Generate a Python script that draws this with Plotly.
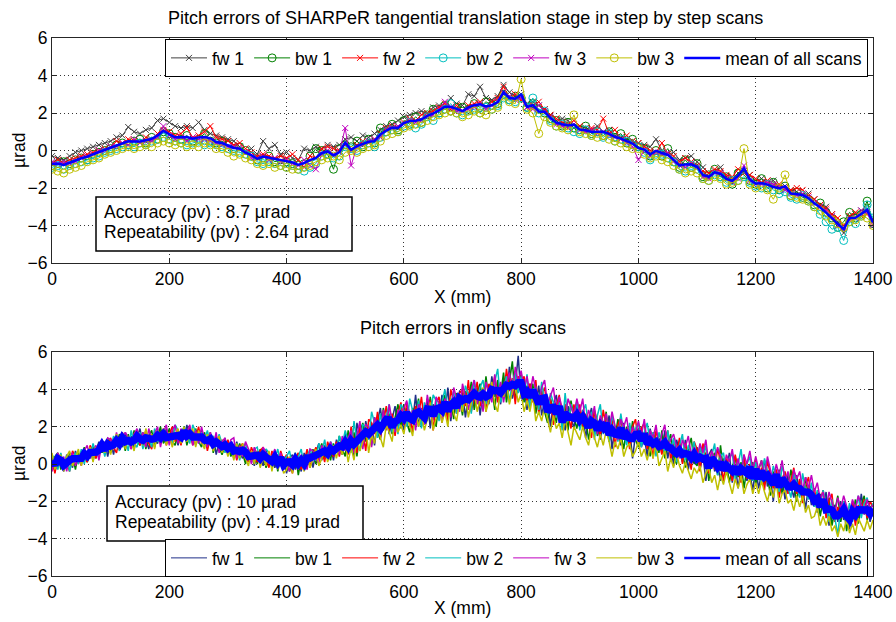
import numpy as np
import plotly.graph_objects as go

# ---------------- data ----------------
x_step = np.arange(0, 1401, 10)   # step-by-step scan positions (mm)
x_fly = np.arange(0, 1401, 5)     # on-the-fly positions (mm), resampled

step_fw1 = [-0.3,-0.4,-0.5,-0.3,-0.1,0.0,0.1,0.2,0.3,0.4,
            0.5,0.7,0.8,1.25,1.0,0.9,1.1,1.2,1.6,1.7,
            1.5,1.3,1.2,1.3,1.2,1.5,1.1,0.9,0.8,0.7,
            0.6,0.5,0.2,-0.1,0.1,-0.2,0.5,0.1,0.3,-0.2,
            -0.1,-0.4,-0.5,0.1,0.0,0.2,0.1,0.3,0.2,0.3,
            0.6,0.7,0.5,0.8,0.7,0.9,1.1,1.3,1.4,1.6,
            1.8,1.9,2.0,2.1,2.0,2.3,2.4,2.3,2.8,2.5,
            2.4,3.0,2.9,3.4,2.8,2.7,2.9,3.5,3.1,2.9,
            3.0,2.5,2.6,2.4,2.2,1.9,1.6,1.7,1.6,1.2,
            1.3,1.2,1.1,1.3,1.0,1.1,0.8,0.7,0.6,0.5,
            0.4,0.3,0.2,0.6,0.0,-0.2,-0.1,-0.5,-0.4,-0.3,
            -0.6,-0.9,-1.2,-1.1,-0.9,-1.4,-1.5,-1.2,-1.1,-1.3,
            -1.6,-1.5,-1.7,-1.6,-2.0,-1.9,-2.1,-2.2,-2.4,-2.3,
            -2.6,-2.9,-3.0,-3.4,-3.8,-4.4,-3.5,-3.4,-3.2,-3.1,-3.7]
step_bw1 = [-0.8,-0.7,-0.6,-0.7,-0.5,-0.4,-0.5,-0.2,-0.1,0.0,
            0.1,0.3,0.4,0.3,0.5,0.6,0.4,0.7,0.6,1.0,
            0.9,0.7,0.6,0.8,0.5,0.6,0.9,0.5,0.4,0.5,
            0.3,0.1,0.2,0.0,-0.3,-0.5,-0.4,-0.3,-0.6,-0.5,
            -0.6,-0.7,-0.8,-0.7,-0.3,0.1,0.0,-0.2,-1.0,0.1,
            0.3,0.2,0.5,0.2,0.6,0.4,1.2,1.0,1.4,1.1,
            1.6,1.4,1.8,1.5,1.9,2.2,2.0,2.4,2.1,2.3,
            2.3,2.2,2.5,2.3,2.6,2.4,2.5,3.0,2.7,2.9,
            2.8,2.3,2.5,2.2,2.0,1.7,1.6,1.3,1.5,1.2,
            1.1,1.3,0.9,1.0,0.8,1.0,0.7,0.9,0.4,0.6,
            0.2,0.1,-0.3,0.0,-0.3,0.1,-0.6,-0.9,-0.5,-0.9,
            -0.7,-1.4,-1.3,-1.0,-1.4,-1.4,-1.8,-1.2,-1.3,-1.6,
            -1.8,-1.5,-2.0,-1.7,-2.1,-1.9,-2.4,-2.2,-2.5,-2.6,
            -2.9,-2.8,-3.3,-3.6,-4.1,-3.8,-3.3,-3.6,-3.4,-2.7,-3.9]
step_fw2 = [-0.7,-0.5,-0.7,-0.5,-0.4,-0.3,-0.2,-0.1,0.0,0.1,
            0.2,0.5,0.4,0.6,0.5,0.4,0.7,0.6,0.9,1.1,
            1.0,0.8,0.9,1.2,0.7,0.8,1.0,1.3,0.7,0.6,
            0.5,0.3,0.4,0.1,-0.1,-0.3,-0.2,-0.3,-0.4,-0.3,
            -0.4,-0.2,-0.5,-0.9,-0.3,-0.4,0.1,0.2,0.1,0.0,
            0.3,0.0,0.3,0.5,0.4,0.6,0.9,1.2,1.3,1.2,
            1.5,1.7,1.6,1.9,2.0,2.1,2.3,2.5,2.2,2.4,
            2.1,2.4,2.5,2.6,2.3,2.6,2.8,3.4,2.8,3.0,
            2.7,2.3,2.4,2.6,2.2,1.9,1.7,1.5,1.4,1.6,
            1.3,1.0,1.2,1.1,1.7,0.9,1.1,0.6,0.8,0.5,
            0.4,0.2,0.0,-0.1,0.4,-0.2,-0.3,-0.6,-0.4,-0.6,
            -0.8,-1.1,-1.2,-1.0,-1.1,-1.3,-1.4,-1.0,-1.2,-1.3,
            -1.5,-1.7,-1.6,-1.9,-1.8,-2.0,-2.1,-2.0,-2.1,-2.4,
            -2.6,-2.9,-3.1,-3.4,-3.6,-4.0,-3.5,-3.3,-3.5,-3.4,-3.8]
step_bw2 = [-0.9,-0.8,-1.0,-0.8,-0.7,-0.6,-0.5,-0.4,-0.3,-0.1,
            0.0,0.1,0.2,0.3,0.2,0.4,0.3,0.5,0.6,0.7,
            0.6,0.5,0.4,0.3,0.4,0.5,0.3,0.4,0.3,0.2,
            0.1,0.0,-0.1,-0.2,-0.3,-0.6,-0.7,-0.6,-0.7,-0.8,
            -0.9,-0.8,-1.0,-1.1,-0.9,-0.7,-0.3,-0.2,-0.4,-0.3,
            0.2,0.1,0.0,0.3,0.4,0.2,0.7,1.0,1.1,1.0,
            1.3,1.5,1.2,1.4,1.8,1.6,2.0,2.2,2.5,2.0,
            1.9,2.1,2.2,2.0,2.3,2.2,2.4,2.8,2.7,2.6,
            2.8,2.3,2.8,2.0,2.1,1.6,1.3,1.4,1.2,1.0,
            0.9,1.1,0.8,1.0,0.7,0.9,0.5,0.6,0.5,0.3,
            0.2,-0.1,-0.5,-0.2,-0.2,-0.4,-0.6,-1.0,-1.1,-0.8,
            -1.0,-1.5,-1.6,-1.3,-1.4,-1.7,-1.6,-1.6,-1.4,-1.7,
            -1.9,-2.0,-1.8,-2.1,-2.3,-2.2,-2.5,-2.6,-2.4,-2.7,
            -3.0,-3.4,-3.8,-4.2,-4.1,-4.8,-3.8,-3.9,-3.5,-2.9,-3.6]
step_fw3 = [-0.6,-0.7,-0.6,-0.7,-0.6,-0.4,-0.3,-0.2,0.0,0.0,
            0.2,0.2,0.4,0.3,0.6,0.4,0.5,0.5,0.7,1.3,
            0.8,0.6,0.7,0.5,0.7,0.6,0.6,0.5,0.4,0.3,
            0.2,0.2,0.1,-0.1,-0.4,-0.4,-0.3,-0.5,-0.4,-0.6,
            -0.5,-0.7,-0.8,-0.5,-0.8,-1.0,-0.2,0.0,-0.2,-0.1,
            1.2,-0.8,0.2,0.3,0.5,0.6,0.7,1.1,1.2,1.3,
            1.4,1.6,1.5,1.6,1.8,1.9,2.2,2.6,2.3,2.1,
            2.1,2.2,2.3,2.5,2.2,2.4,2.6,3.1,2.9,2.7,
            2.8,2.3,2.2,2.4,2.1,1.8,1.4,1.3,1.2,1.4,
            1.1,1.0,1.1,0.9,1.0,0.8,0.7,0.6,0.4,0.2,
            -0.5,0.0,-0.3,-0.1,-0.2,-0.1,-0.6,-0.8,-0.9,-0.7,
            -0.9,-1.4,-1.5,-1.2,-1.2,-1.5,-1.7,-1.5,-0.8,-1.6,
            -1.8,-1.8,-1.7,-1.8,-1.9,-2.1,-2.3,-2.4,-2.3,-2.5,
            -2.8,-3.0,-3.2,-3.5,-4.0,-4.1,-3.7,-3.6,-3.2,-3.3,-4.0]
step_bw3 = [-1.0,-1.1,-1.2,-1.0,-0.9,-0.8,-0.6,-0.5,-0.4,-0.2,
            -0.1,0.0,0.1,0.2,0.1,0.2,0.3,0.2,0.4,0.5,
            0.4,0.3,0.4,0.2,0.3,0.2,0.4,0.3,0.1,0.1,
            -0.1,-0.3,-0.2,-0.4,-0.5,-0.7,-0.8,-0.7,-0.9,-0.8,
            -0.9,-1.0,-1.0,-0.9,-0.8,-0.6,-0.5,-0.4,-0.3,-0.5,
            -0.1,0.0,-0.1,0.1,0.2,0.3,0.5,0.8,0.9,1.0,
            1.2,1.3,1.4,1.5,1.6,1.8,1.9,2.0,2.1,2.0,
            1.8,1.9,2.1,2.0,1.9,2.2,2.3,2.9,2.6,2.5,
            3.8,2.2,2.0,0.9,1.8,1.5,1.3,1.2,1.1,1.9,
            1.0,0.9,0.8,0.7,0.8,0.6,0.5,0.4,0.2,0.1,
            0.1,-0.2,-0.4,-0.3,-0.5,-0.6,-0.8,-1.0,-1.2,-1.1,
            -1.2,-1.5,-1.6,-1.4,-1.5,-1.8,-1.7,-1.6,0.1,-1.8,
            -2.0,-1.9,-2.1,-2.6,-2.0,-1.3,-2.4,-2.5,-2.6,-2.7,
            -3.0,-3.2,-3.5,-3.7,-3.9,-4.1,-3.8,-3.7,-3.5,-3.6,-4.0]

fly_fw1 = [0.4,-0.4,0.3,0.0,-0.4,0.5,0.3,-0.2,0.7,0.1,0.3,0.8,0.2,0.7,0.2,0.7,1.2,0.6,1.2,0.4,
           1.2,0.5,1.5,1.2,0.9,1.7,1.1,1.5,0.8,1.4,1.9,1.1,1.4,0.8,1.6,1.3,1.1,1.8,1.2,1.9,
           1.1,1.8,1.6,1.0,1.8,1.4,2.1,1.3,1.6,1.0,1.5,1.8,1.0,1.5,1.0,1.5,0.5,1.2,0.9,1.4,
           0.6,1.1,0.3,1.2,0.6,0.3,0.9,0.4,0.6,-0.1,0.6,0.4,-0.1,0.8,0.0,0.4,-0.2,0.5,0.0,0.4,
           -0.5,0.3,0.5,-0.3,0.2,-0.4,0.6,-0.1,0.6,-0.2,0.6,1.1,0.2,1.0,0.5,1.0,0.2,1.3,0.9,0.5,
           1.6,0.6,1.3,0.4,2.2,1.5,1.0,2.3,1.5,2.2,1.0,2.3,3.0,1.8,2.6,1.6,2.4,3.1,2.0,2.5,
           1.8,3.0,2.7,2.2,3.7,2.0,3.0,2.5,3.5,1.9,3.2,2.9,2.4,3.7,2.7,4.1,2.3,3.5,3.1,3.9,
           3.8,2.5,3.7,4.2,3.2,4.1,2.6,3.9,3.7,3.2,4.7,3.6,4.3,3.2,4.6,3.6,5.2,3.5,4.2,5.8,
           3.5,4.2,2.9,4.3,3.7,3.1,4.2,2.6,3.4,3.6,2.0,3.2,3.7,2.3,2.7,1.8,3.1,2.5,1.9,3.1,
           2.0,2.9,1.4,2.4,3.0,1.6,2.1,1.3,2.3,1.6,2.6,0.8,2.0,1.6,1.0,2.2,1.2,1.9,0.3,1.6,
           1.9,0.9,1.5,0.4,1.9,1.1,0.5,1.4,0.7,1.8,0.3,1.1,-0.1,1.3,0.7,0.1,1.3,-0.3,0.6,0.0,
           0.9,-0.3,0.5,-0.9,0.5,0.8,-0.4,0.0,-0.9,0.3,-0.5,0.6,-1.0,0.0,-1.3,-0.2,0.2,-0.9,-0.5,-1.4,
           -0.2,-1.3,-0.5,0.2,-1.2,-0.7,-2.0,-0.3,-1.2,-0.7,-1.9,-0.6,-1.2,-1.8,-0.6,-1.7,-1.3,-2.4,-1.2,-2.2,
           -1.6,-2.6,-1.6,-2.4,-1.5,-3.3,-2.4,-2.2,-3.1,-2.0,-3.0,-2.5,-3.5,-2.0,-2.6,-3.0,-1.6,-2.7,-2.2,-3.1,
           -2.5]
fly_bw1 = [-0.2,0.4,0.6,-0.3,0.2,-0.2,0.6,0.4,-0.3,0.6,0.2,0.9,0.1,0.5,0.9,0.3,1.1,0.6,1.0,1.4,
           0.6,1.3,1.0,1.6,1.4,0.7,1.6,1.0,1.8,1.2,1.0,1.7,0.8,1.5,1.8,0.9,1.5,2.0,1.1,1.4,
           1.9,1.2,1.0,1.8,1.5,2.0,1.0,1.6,1.1,1.9,1.2,0.9,1.7,1.0,1.7,0.6,1.3,0.9,0.5,1.0,
           1.1,0.4,0.8,0.5,1.1,0.6,0.0,0.8,0.3,0.8,0.0,0.8,0.5,-0.2,0.3,-0.1,0.6,-0.4,0.4,-0.3,
           0.4,-0.4,0.0,0.6,-0.6,0.3,-0.2,0.6,0.1,0.8,0.0,0.6,1.1,0.3,0.8,0.2,1.1,0.6,1.5,0.8,
           0.4,1.8,0.9,1.7,0.4,1.7,2.2,1.2,1.8,1.0,2.5,1.7,1.3,3.0,2.1,2.7,1.6,2.5,3.2,1.9,
           3.2,2.2,1.7,3.0,2.6,3.5,2.0,3.0,2.3,3.6,2.6,2.0,3.4,3.1,3.7,2.6,3.5,2.4,3.8,3.5,
           2.6,3.9,3.4,4.4,2.9,3.8,4.3,3.2,4.7,3.4,4.1,2.9,4.5,3.7,4.9,3.3,4.5,5.5,3.5,4.1,
           4.9,3.3,4.2,3.4,4.3,2.7,3.6,3.9,2.8,2.2,3.5,2.9,2.2,3.5,2.3,3.0,1.8,3.4,2.5,1.9,
           2.9,1.9,2.5,1.3,2.2,2.8,1.5,2.4,1.7,2.8,1.2,1.9,1.4,2.4,1.6,0.8,2.0,1.0,2.3,1.3,
           0.9,2.0,1.1,1.7,0.4,1.7,1.2,0.6,1.8,0.3,1.1,1.6,0.4,0.0,1.1,0.6,-0.2,0.8,1.4,0.1,
           -0.1,1.0,0.1,0.6,-0.9,0.3,0.6,-0.6,1.0,-0.4,0.1,-1.0,-0.2,0.4,-0.7,0.1,-1.3,-0.2,-0.7,0.1,
           -1.1,-0.3,0.2,-1.1,-0.6,-1.7,-0.4,-1.0,-0.3,-1.6,-0.7,-1.4,-0.3,-1.2,-2.0,-0.9,-1.9,-0.7,-1.8,-1.4,
           -2.3,-1.5,-2.8,-1.9,-2.5,-1.8,-3.3,-2.5,-1.7,-3.1,-2.3,-3.6,-2.5,-2.9,-1.9,-3.2,-2.2,-1.7,-3.0,-2.3,
           -2.2]
fly_fw2 = [0.2,-0.5,0.4,0.5,-0.1,0.1,-0.4,0.7,0.4,0.0,0.7,0.3,0.1,1.0,0.7,0.3,0.9,1.3,0.5,1.0,
           1.4,0.9,0.6,1.4,1.7,1.0,1.3,0.8,1.6,1.8,1.0,1.3,1.8,1.1,0.8,1.7,1.6,1.1,1.9,1.0,
           1.6,2.0,1.2,1.6,1.0,1.9,1.4,2.0,1.0,1.4,2.0,1.1,1.6,0.7,1.4,1.1,1.5,0.7,1.3,0.7,
           1.3,0.7,1.0,0.2,0.8,1.1,0.3,0.1,0.9,0.5,0.1,0.7,0.9,0.3,-0.2,0.7,0.3,-0.2,0.7,0.2,
           0.5,0.1,-0.5,0.3,0.6,-0.3,0.1,0.8,-0.2,0.5,0.9,0.2,0.7,0.1,1.2,0.7,0.4,1.2,0.4,1.2,
           1.3,0.5,2.0,1.2,0.6,2.0,1.7,0.7,2.4,2.2,1.6,2.8,1.4,2.2,3.1,1.8,2.7,1.5,2.7,3.3,
           2.1,3.3,2.7,1.7,3.1,2.6,3.6,2.2,3.0,3.4,1.8,3.3,3.6,2.7,3.2,2.3,4.0,3.3,2.7,3.8,
           4.0,3.1,4.5,2.8,3.7,4.4,3.1,4.0,2.8,4.3,3.9,4.7,3.3,4.2,3.6,5.1,3.9,4.6,3.2,4.7,
           4.2,4.7,3.3,4.3,3.3,4.5,2.7,3.7,4.1,2.9,3.5,2.1,3.1,3.7,2.2,3.2,2.7,1.9,3.2,2.3,
           3.2,2.0,2.7,2.2,1.4,2.9,2.3,1.5,2.9,2.0,1.4,2.4,0.9,2.1,2.5,1.3,1.9,0.8,2.0,2.4,
           1.1,1.9,2.2,0.8,1.5,0.3,1.8,1.2,0.5,1.4,1.8,0.2,1.1,0.5,1.4,0.0,1.1,0.5,-0.3,1.2,
           0.8,-0.4,1.1,0.3,-0.5,0.7,-0.3,0.8,0.2,-0.9,0.3,-0.2,-0.9,0.5,-0.2,-1.0,0.5,-0.8,0.0,-0.6,
           0.2,-0.8,-0.2,-1.4,0.2,-0.5,-1.3,-0.3,-1.8,-0.8,-0.4,-1.6,-0.8,-0.2,-1.6,-0.8,-2.1,-1.2,-0.7,-1.9,
           -1.3,-2.3,-1.9,-1.4,-2.9,-2.0,-1.6,-3.1,-2.3,-2.9,-2.0,-2.5,-3.2,-2.1,-3.3,-2.2,-2.5,-1.9,-2.9,-2.0,
           -2.3]
fly_bw2 = [0.5,0.2,-0.3,0.6,-0.1,0.4,-0.4,0.3,0.6,0.0,0.8,0.0,0.7,0.3,1.1,0.6,0.4,1.2,0.4,1.1,
           0.8,1.5,1.1,0.7,1.6,1.3,0.7,1.8,1.1,0.9,1.7,0.8,1.6,1.4,0.9,1.9,1.2,1.4,1.8,1.1,
           1.5,1.1,2.1,1.8,1.3,2.0,1.6,1.1,2.1,1.7,1.1,1.7,1.3,1.8,1.0,1.5,0.9,1.6,1.1,0.6,
           1.0,1.2,0.5,1.1,0.2,0.9,1.1,0.4,0.1,0.8,0.9,0.1,0.4,0.8,0.6,-0.2,0.3,0.8,0.0,0.2,
           0.4,0.7,-0.1,0.2,0.4,0.8,-0.2,0.4,0.8,0.3,0.2,1.1,0.6,1.3,0.3,1.2,0.9,0.7,1.5,1.0,
           1.8,1.2,0.6,2.3,1.2,0.7,2.1,2.0,1.3,2.8,2.2,1.4,2.7,1.8,2.6,3.2,1.7,2.4,1.6,3.2,
           2.9,2.0,3.5,2.8,2.2,3.4,1.9,3.3,2.8,2.6,3.7,3.4,2.3,3.3,4.0,2.8,3.2,3.9,2.7,3.7,
           2.9,4.2,3.7,2.7,4.5,3.5,4.1,4.5,3.2,4.0,3.5,4.4,5.1,3.3,4.1,4.7,3.3,4.4,4.9,3.8,
           4.7,3.6,4.8,3.0,4.0,4.1,2.9,4.4,3.3,2.6,3.8,3.3,2.5,3.3,1.8,3.8,2.3,3.2,2.5,3.4,
           1.8,2.8,3.2,2.1,2.8,1.3,2.6,3.2,1.6,2.2,1.2,2.6,2.0,1.2,2.7,1.6,1.0,2.2,1.2,1.9,
           2.2,0.9,1.7,2.2,1.1,1.7,0.4,1.7,1.1,0.6,1.8,0.7,1.4,0.1,1.0,1.6,0.2,1.0,0.5,1.2,
           0.2,0.9,0.3,1.0,-0.2,0.4,1.1,-0.6,0.4,0.6,-0.5,0.3,0.6,-0.8,0.0,0.8,-0.6,0.0,0.4,-0.9,
           0.1,-0.5,-1.1,0.3,-0.4,-1.1,-0.1,-0.7,-1.5,-0.1,-0.7,-1.2,-1.8,-0.5,-1.0,-1.8,-0.5,-1.4,-1.9,-1.0,
           -2.3,-1.4,-2.3,-1.4,-2.1,-3.1,-1.9,-2.9,-3.8,-2.3,-2.0,-2.9,-2.1,-3.1,-2.3,-1.7,-2.9,-2.1,-1.8,-2.6,
           -2.1]
fly_fw3 = [-0.4,0.3,0.6,-0.1,0.4,-0.4,0.4,0.6,-0.1,0.4,-0.1,0.7,1.0,0.3,0.6,1.0,0.2,1.1,0.8,1.4,
           1.3,0.8,1.7,0.8,1.2,1.7,1.4,0.8,1.6,1.9,1.1,1.7,0.9,1.9,1.3,1.6,2.0,0.9,1.7,2.1,
           1.0,1.8,2.1,1.1,1.9,1.3,1.7,2.1,1.0,1.8,1.1,2.0,1.3,0.9,1.7,1.0,1.7,0.6,1.2,1.4,
           0.6,1.3,1.4,0.3,1.0,0.4,1.2,0.8,0.0,0.9,0.5,0.0,0.9,0.6,0.0,0.4,0.8,0.1,0.6,-0.3,
           0.1,-0.4,0.4,0.2,-0.3,0.5,0.1,-0.3,0.8,0.7,0.3,0.0,1.0,0.6,0.4,1.2,0.6,1.1,0.5,1.5,
           0.7,1.4,1.8,0.6,1.5,2.3,0.8,2.1,2.0,0.9,2.5,2.0,1.5,2.9,1.8,3.2,2.3,1.7,2.9,2.6,
           3.0,3.4,2.0,2.9,1.8,3.2,2.9,2.1,3.7,2.8,2.4,3.6,3.2,2.2,3.5,3.2,2.5,4.1,3.5,2.8,
           4.3,3.6,2.9,4.0,4.5,3.2,3.9,2.8,4.4,3.8,3.3,4.8,3.6,4.4,3.3,4.3,4.9,3.7,5.2,4.4,
           5.0,4.0,4.7,3.7,4.7,4.0,3.2,4.1,4.5,3.2,3.6,4.1,2.8,3.6,3.0,2.3,3.5,3.1,2.6,3.5,
           2.8,3.5,2.0,2.9,2.4,3.1,1.6,2.6,2.1,2.7,1.8,2.8,2.1,1.3,2.4,2.0,2.5,1.3,2.0,1.6,
           2.3,1.5,2.4,1.1,1.8,1.4,2.1,0.9,1.6,2.1,0.8,1.3,1.6,0.9,0.3,1.3,0.9,1.5,0.5,0.9,
           0.3,1.1,0.6,1.3,0.0,0.7,0.3,0.9,0.4,-0.4,0.5,0.1,0.8,-0.3,0.3,-0.6,0.5,0.0,0.7,-0.3,
           0.4,-0.3,0.2,-0.7,0.4,-0.3,-1.0,0.0,-0.6,0.2,-0.9,-0.4,-1.4,-0.3,-0.8,-0.4,-1.4,-0.7,-1.3,-0.6,
           -1.5,-1.0,-1.9,-1.5,-2.4,-1.5,-2.0,-2.6,-1.8,-2.4,-1.7,-2.3,-2.8,-1.9,-2.4,-1.7,-2.2,-2.7,-1.9,-2.4,
           -2.2]
fly_bw3 = [0.6,-0.3,0.1,0.5,-0.4,0.4,0.7,-0.1,0.3,0.8,-0.1,0.6,0.4,0.9,0.1,0.9,0.7,1.3,0.6,1.1,
           0.5,1.2,1.6,0.8,1.6,0.8,1.5,1.2,0.7,1.7,1.4,1.0,1.9,1.2,1.6,0.8,1.8,1.2,1.9,1.0,
           1.7,0.9,1.5,1.9,1.1,2.0,1.2,1.6,1.9,0.9,1.8,1.2,0.8,1.6,1.2,0.7,1.2,1.5,0.6,1.0,
           0.4,1.0,0.2,1.1,0.3,1.1,0.3,-0.1,0.7,0.0,0.7,-0.2,0.4,-0.1,0.7,-0.4,0.4,-0.3,0.3,-0.5,
           -0.3,0.4,-0.5,0.5,-0.2,0.3,-0.4,0.5,-0.2,0.3,0.8,-0.1,0.3,0.9,0.1,0.6,1.0,0.3,1.0,0.5,
           1.2,0.1,0.9,0.2,1.4,0.7,1.2,2.0,0.6,1.6,1.1,2.3,1.4,0.9,2.1,1.7,1.2,2.5,1.7,2.1,
           1.6,2.6,2.0,1.5,2.9,2.0,2.7,1.8,2.4,3.3,1.8,2.5,3.1,2.2,2.8,2.0,3.5,2.7,2.3,3.4,
           2.8,3.7,2.5,3.3,3.9,2.8,3.5,4.1,2.8,3.4,4.4,3.2,2.8,4.1,3.6,4.3,3.2,3.9,4.2,3.3,
           3.8,2.8,3.4,2.8,3.7,2.3,2.8,2.3,3.1,2.3,1.7,2.6,1.9,2.2,1.4,2.4,1.6,1.0,2.0,1.6,
           1.3,2.0,1.4,1.0,2.0,1.4,0.9,1.6,1.0,1.8,1.2,0.4,1.2,0.8,1.4,0.4,0.9,1.1,0.4,0.7,
           1.2,0.4,0.8,0.2,0.9,0.3,1.1,-0.1,0.3,0.7,-0.4,0.3,-0.2,0.6,-0.1,-0.5,0.1,-0.4,-0.8,-0.2,
           -0.5,-0.1,-1.0,-0.5,-0.2,-1.0,-0.6,-1.4,-0.6,-1.1,-0.4,-1.0,-1.6,-0.8,-1.3,-0.6,-1.6,-1.1,-0.8,-1.6,
           -1.0,-1.6,-0.9,-1.5,-2.0,-1.3,-1.8,-1.0,-2.1,-1.6,-1.4,-2.1,-1.9,-2.5,-1.7,-2.3,-1.7,-2.6,-2.2,-2.9,
           -2.8,-2.3,-3.3,-2.8,-3.3,-2.8,-3.6,-3.3,-3.9,-3.2,-3.6,-2.9,-3.7,-3.2,-3.8,-2.9,-3.3,-3.6,-3.0,-3.5,
           -3.0]

series_names = ["fw 1", "bw 1", "fw 2", "bw 2", "fw 3", "bw 3"]
step_series = [step_fw1, step_bw1, step_fw2, step_bw2, step_fw3, step_bw3]
fly_series = [fly_fw1, fly_bw1, fly_fw2, fly_bw2, fly_fw3, fly_bw3]
step_mean = np.mean(np.array(step_series), axis=0)
fly_mean = np.mean(np.array(fly_series), axis=0)

x_ticks = [0, 200, 400, 600, 800, 1000, 1200, 1400]
y_ticks = [-6, -4, -2, 0, 2, 4, 6]
title_top = "Pitch errors of SHARPeR tangential translation stage in step by step scans"
title_bottom = "Pitch errors in onfly scans"
lines_top = ["Accuracy (pv) : 8.7 µrad", "Repeatability (pv) : 2.64 µrad"]
lines_bottom = ["Accuracy (pv) : 10 µrad", "Repeatability (pv) : 4.19 µrad"]

# ---------------- styles ----------------
step_colors = ["#404040", "#008000", "#ff0000", "#00bfbf", "#bf00bf", "#bfbf00"]
fly_colors = ["#1f2f88", "#008000", "#ff0000", "#00bfbf", "#bf00bf", "#bfbf00"]
step_symbols = ["x-thin-open", "circle-open"] * 3
step_sizes = [6, 8] * 3
FONT = "Liberation Sans, Arial, Helvetica, sans-serif"
FS = 17.5
W, H = 896, 622

fig = go.Figure()
for name, ys, col, sym, sz in zip(series_names, step_series, step_colors, step_symbols, step_sizes):
    fig.add_trace(go.Scatter(x=x_step, y=ys, name=name, mode="lines+markers",
                             line=dict(color=col, width=1),
                             marker=dict(symbol=sym, size=sz, color=col, line=dict(color=col, width=1)),
                             xaxis="x", yaxis="y", legend="legend"))
fig.add_trace(go.Scatter(x=x_step, y=step_mean, name="mean of all scans", mode="lines",
                         line=dict(color="#0000ff", width=2.5), xaxis="x", yaxis="y", legend="legend"))

# on-the-fly scans (dense noisy lines); legend shows thin samples via legend-only entries
for name, ys, col in zip(series_names, fly_series, fly_colors):
    fig.add_trace(go.Scatter(x=x_fly, y=ys, name=name, mode="lines", showlegend=False,
                             line=dict(color=col, width=1.5),
                             xaxis="x2", yaxis="y2", legend="legend2"))
fig.add_trace(go.Scatter(x=x_fly, y=fly_mean, name="mean of all scans", mode="lines", showlegend=False,
                         line=dict(color="#0000ff", width=7.5), xaxis="x2", yaxis="y2", legend="legend2"))
for name, col, lw in zip(series_names + ["mean of all scans"], fly_colors + ["#0000ff"], [1] * 6 + [2.5]):
    fig.add_trace(go.Scatter(x=[None], y=[None], name=name, mode="lines",
                             line=dict(color=col, width=lw),
                             xaxis="x2", yaxis="y2", legend="legend2"))

x_dom = [52 / W, 873 / W]
top_dom = [1 - 263 / H, 1 - 38 / H]
bot_dom = [1 - 576 / H, 1 - 352 / H]

axis_common = dict(showline=True, linecolor="#262626", linewidth=1, mirror="ticks",
                   ticks="inside", ticklen=5, tickcolor="#262626", automargin=False,
                   showgrid=True, gridcolor="#333333", griddash="1px,3px", gridwidth=1,
                   zeroline=False, tickfont=dict(family=FONT, size=FS, color="#000"))

leg_common = dict(orientation="h", xanchor="right", yanchor="middle",
                  bgcolor="white", bordercolor="#000", borderwidth=1,
                  font=dict(family=FONT, size=FS, color="#000"), itemwidth=36, tracegroupgap=0)

fig.update_layout(
    template="none",
    width=W, height=H, margin=dict(l=0, r=0, t=0, b=0, autoexpand=False),
    paper_bgcolor="white", plot_bgcolor="white",
    font=dict(family=FONT, size=FS, color="#000"),
    xaxis=dict(domain=x_dom, range=[0, 1400], tickvals=x_ticks, anchor="y", **axis_common),
    yaxis=dict(domain=top_dom, range=[-6, 6], tickvals=y_ticks, anchor="x", **axis_common),
    xaxis2=dict(domain=x_dom, range=[0, 1400], tickvals=x_ticks, anchor="y2", **axis_common),
    yaxis2=dict(domain=bot_dom, range=[-6, 6], tickvals=y_ticks, anchor="x2", **axis_common),
    legend=dict(x=868 / W, y=1 - 58 / H, **leg_common),
    legend2=dict(x=868 / W, y=1 - 558 / H, **leg_common),
    showlegend=True,
)

shapes = []
annotations = []
for (x0, y0, x1, y1), lines, tx, ty in [((96, 197, 352, 251), lines_top, 102, 212),
                                         ((107, 486, 363, 541), lines_bottom, 113, 502)]:
    shapes.append(dict(type="rect", xref="paper", yref="paper", x0=x0 / W, x1=x1 / W,
                       y0=1 - y1 / H, y1=1 - y0 / H, line=dict(color="#000", width=1.5),
                       fillcolor="white", layer="above"))
    for k, txt in enumerate(lines):
        annotations.append(dict(xref="paper", yref="paper", x=tx / W, y=1 - (ty + 20 * k) / H,
                                xanchor="left", yanchor="middle", align="left", showarrow=False,
                                text=txt, font=dict(family=FONT, size=FS, color="#000")))

for txt, cx, cy, ang, fs in [(title_top, 465, 18, 0, 18), (title_bottom, 463, 328, 0, 18),
                             ("X (mm)", 462, 297, 0, FS), ("X (mm)", 462, 608, 0, FS),
                             ("µrad", 19, 151, -90, FS), ("µrad", 19, 464, -90, FS)]:
    annotations.append(dict(xref="paper", yref="paper", x=cx / W, y=1 - cy / H,
                            xanchor="center", yanchor="middle", showarrow=False, textangle=ang,
                            text=txt, font=dict(family=FONT, size=fs, color="#000")))

fig.update_layout(shapes=shapes, annotations=annotations)

fig.write_html("out.html", config={"displayModeBar": False},
               post_script="document.body.style.margin='0';document.body.style.overflow='hidden';")
